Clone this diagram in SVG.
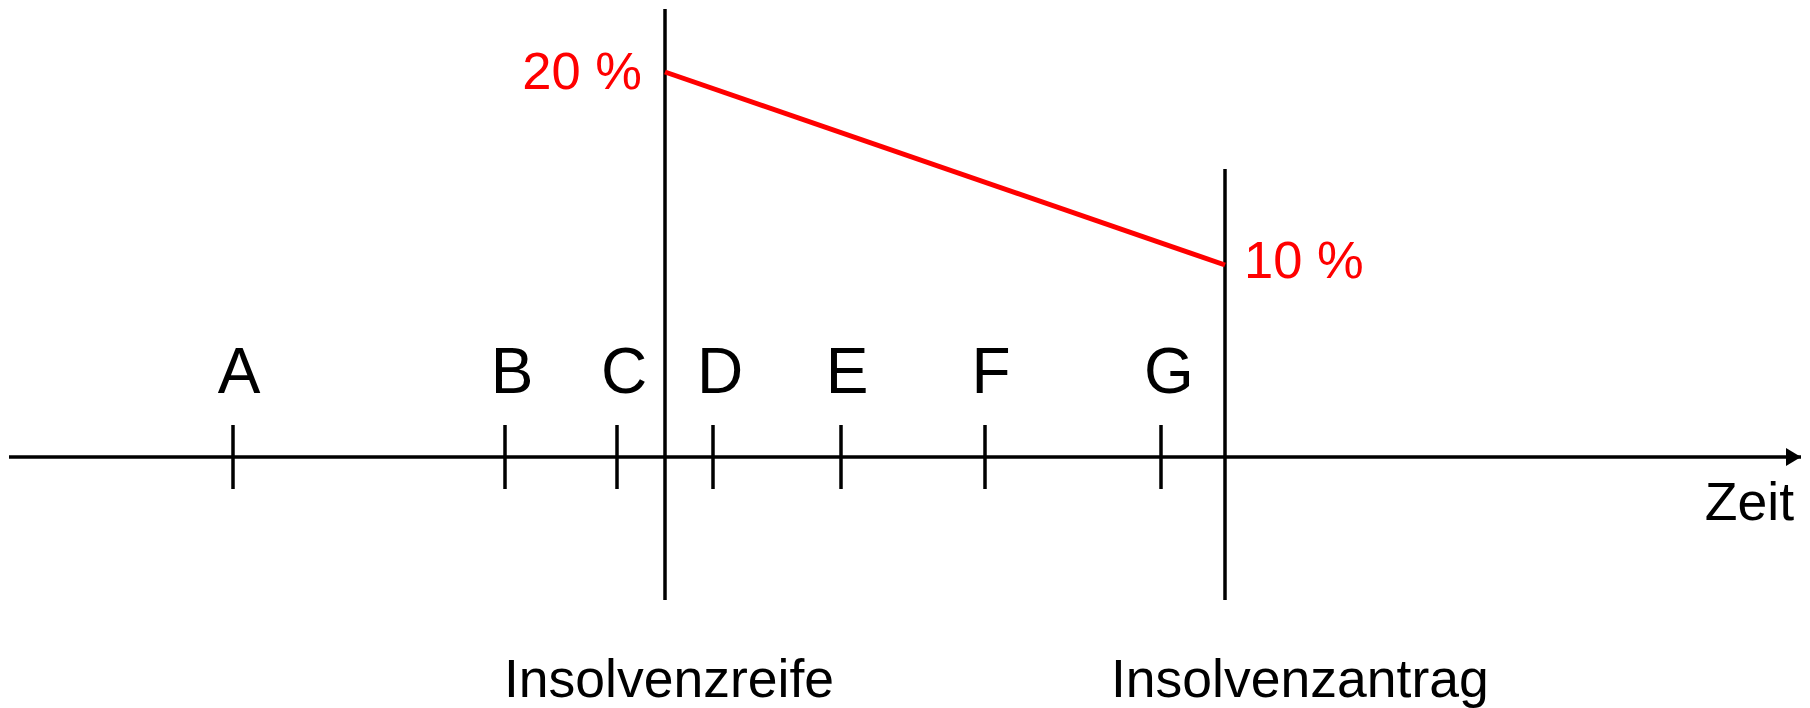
<svg xmlns="http://www.w3.org/2000/svg" width="1810" height="708" viewBox="0 0 1810 708">
<style>
.ln{stroke:#000;stroke-width:3.5;fill:none}
.red{stroke:#ff0000;stroke-width:5;fill:none}
.t{font-family:"Liberation Sans",Arial,sans-serif;font-size:53.5px;fill:#000}
.lt{font-family:"Liberation Sans",Arial,sans-serif;font-size:64px;fill:#000;text-anchor:middle}
.rt{font-family:"Liberation Sans",Arial,sans-serif;font-size:52.5px;fill:#ff0000}
</style>
<defs>
<marker id="arr" markerUnits="userSpaceOnUse" markerWidth="16" markerHeight="18" refX="15" refY="9" orient="auto">
<polygon points="0,0 15,9 0,18" fill="#000"/>
</marker>
</defs>
<rect width="1810" height="708" fill="#fff"/>
<g id="connectors">
<line id="axis" class="ln" x1="9" y1="457" x2="1801" y2="457" marker-end="url(#arr)"/>
<line class="ln" x1="665" y1="9" x2="665" y2="600"/>
<line class="ln" x1="1225" y1="169" x2="1225" y2="600"/>
<line class="red" x1="665" y1="72" x2="1225" y2="265"/>
</g>
<g id="ticks">
<line class="ln" x1="233" y1="425" x2="233" y2="489"/>
<line class="ln" x1="505" y1="425" x2="505" y2="489"/>
<line class="ln" x1="617" y1="425" x2="617" y2="489"/>
<line class="ln" x1="713" y1="425" x2="713" y2="489"/>
<line class="ln" x1="841" y1="425" x2="841" y2="489"/>
<line class="ln" x1="985" y1="425" x2="985" y2="489"/>
<line class="ln" x1="1161" y1="425" x2="1161" y2="489"/>
</g>
<g id="labels">
<text class="lt" x="239" y="393">A</text>
<text class="lt" x="512" y="393">B</text>
<text class="lt" x="624" y="393">C</text>
<text class="lt" x="720" y="393">D</text>
<text class="lt" x="847" y="393">E</text>
<text class="lt" x="991" y="393">F</text>
<text class="lt" x="1169" y="393">G</text>
</g>
<g id="pct20"><text class="rt" x="642" y="89" text-anchor="end">20 %</text></g>
<g id="pct10"><text class="rt" x="1244" y="278">10 %</text></g>
<g id="zeit"><text class="t" x="1794" y="520" text-anchor="end">Zeit</text></g>
<g id="insolvenzreife"><text class="t" x="669" y="697" text-anchor="middle">Insolvenzreife</text></g>
<g id="insolvenzantrag"><text class="t" x="1111" y="697">Insolvenzantrag</text></g>
</svg>
